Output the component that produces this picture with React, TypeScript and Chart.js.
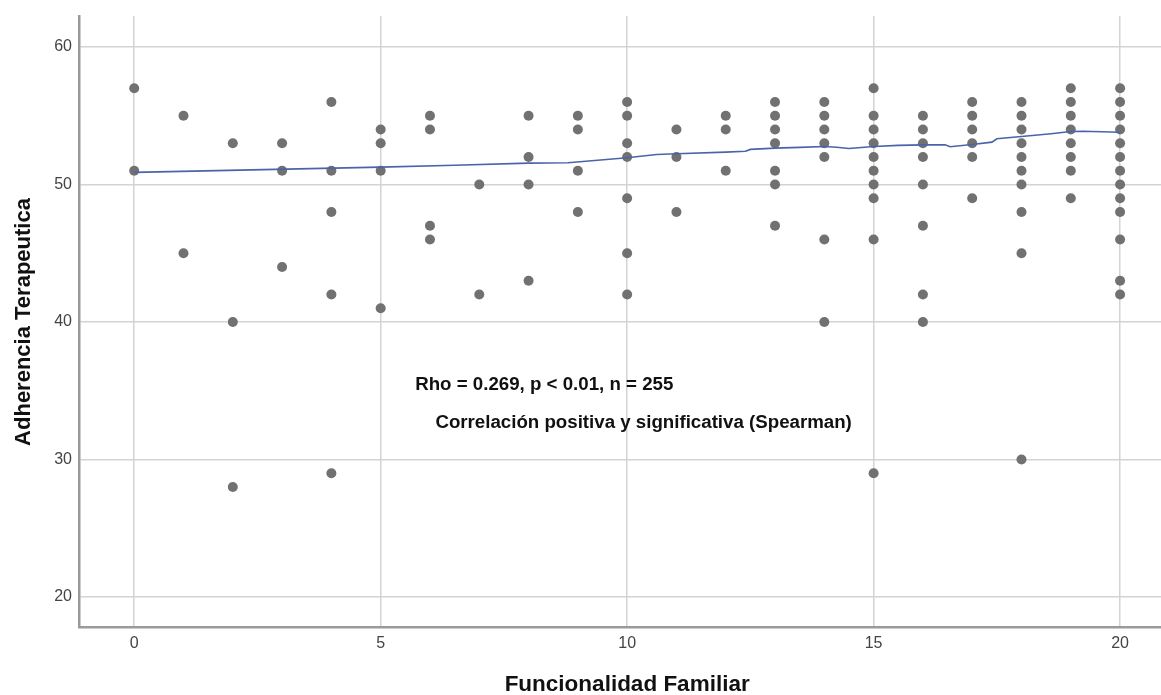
import React, { useEffect, useRef } from 'react';
import { Chart, registerables } from 'chart.js';

Chart.register(...registerables);

// ---- Data ----
const xTicks = [0, 5, 10, 15, 20];
const yTicks = [20, 30, 40, 50, 60];

const funcionalidad = [0, 1, 2, 3, 4, 5, 6, 7, 8, 9, 10, 11, 12, 13, 14, 15, 16, 17, 18, 19, 20];
const adherenciaPorX: number[][] = [
  [57, 51],
  [55, 45],
  [53, 40, 28],
  [53, 51, 44],
  [56, 51, 48, 42, 29],
  [54, 53, 51, 41],
  [55, 54, 47, 46],
  [50, 42],
  [55, 52, 50, 43],
  [55, 54, 51, 48],
  [56, 55, 53, 52, 49, 45, 42],
  [54, 52, 48],
  [55, 54, 51],
  [56, 55, 54, 53, 51, 50, 47],
  [56, 55, 54, 53, 52, 46, 40],
  [57, 55, 54, 53, 52, 51, 50, 49, 46, 29],
  [55, 54, 53, 52, 50, 47, 42, 40],
  [56, 55, 54, 53, 52, 49],
  [56, 55, 54, 53, 52, 51, 50, 48, 45, 30],
  [57, 56, 55, 54, 53, 52, 51, 49],
  [57, 56, 55, 54, 53, 52, 51, 50, 49, 48, 46, 43, 42],
];

// Loess-like fit line
const fitX = [0, 5, 6.5, 8, 8.8, 10, 10.6, 11, 12, 12.4, 12.5, 13, 13.5, 14, 14.25, 14.5, 15, 15.5, 16, 16.45, 16.55, 17, 17.4, 17.5, 18, 18.6, 19, 19.25, 20];
const fitY = [50.88, 51.26, 51.4, 51.55, 51.58, 51.94, 52.18, 52.23, 52.35, 52.42, 52.55, 52.64, 52.7, 52.76, 52.71, 52.62, 52.76, 52.84, 52.88, 52.88, 52.74, 52.91, 53.08, 53.32, 53.49, 53.69, 53.85, 53.87, 53.8];

const xTitle = 'Funcionalidad Familiar';
const yTitle = 'Adherencia Terapeutica';
const annotationLines = ['Rho = 0.269, p < 0.01, n = 255', 'Correlación positiva y significativa (Spearman)'];
const annotationX = [5.7, 6.11];
const annotationY = [35.4, 32.7];

const FONT = '"Liberation Sans", Arial, sans-serif';

const textPlugin = {
  id: 'textLayer',
  beforeDatasetsDraw(chart: any) {
    const { ctx, scales } = chart;
    const xs = scales.x;
    const ys = scales.y;
    ctx.save();
    ctx.fillStyle = '#111';
    ctx.font = `bold 18.7px ${FONT}`;
    ctx.textAlign = 'left';
    ctx.textBaseline = 'middle';
    annotationLines.forEach((t, i) => {
      ctx.fillText(t, xs.getPixelForValue(annotationX[i]), ys.getPixelForValue(annotationY[i]));
    });
    ctx.restore();
  },
  afterDraw(chart: any) {
    const { ctx, scales } = chart;
    const xs = scales.x;
    const ys = scales.y;
    ctx.save();
    ctx.fillStyle = '#111';
    ctx.font = `bold 22.5px ${FONT}`;
    ctx.textAlign = 'center';
    ctx.textBaseline = 'middle';
    ctx.fillText(xTitle, xs.getPixelForValue((xTicks[0] + xTicks[xTicks.length - 1]) / 2), 685);
    ctx.font = `bold 22px ${FONT}`;
    ctx.translate(23.5, ys.getPixelForValue((yTicks[0] + yTicks[yTicks.length - 1]) / 2));
    ctx.rotate(-Math.PI / 2);
    ctx.fillText(yTitle, 0, 0);
    ctx.restore();
  },
};

export default function App() {
  const ref = useRef<HTMLCanvasElement | null>(null);

  useEffect(() => {
    document.body.style.margin = '0';
    const canvas = ref.current;
    if (!canvas) return;

    const points: { x: number; y: number }[] = [];
    funcionalidad.forEach((x, i) => {
      adherenciaPorX[i].forEach((y) => points.push({ x, y }));
    });
    const fit = fitX.map((x, i) => ({ x, y: fitY[i] }));

    const chart = new Chart(canvas, {
      type: 'scatter',
      data: {
        datasets: [
          {
            type: 'line',
            label: 'Ajuste',
            data: fit,
            borderColor: '#4a64aa',
            borderWidth: 1.6,
            pointRadius: 0,
            tension: 0,
            fill: false,
            order: 0,
          } as any,
          {
            label: 'Casos',
            data: points,
            backgroundColor: '#717171',
            borderWidth: 0,
            pointRadius: 5,
            pointHoverRadius: 5,
            order: 1,
          },
        ],
      },
      options: {
        responsive: false,
        animation: false,
        events: [],
        layout: { autoPadding: false, padding: { top: 16, left: 0, right: 0, bottom: 0 } },
        plugins: {
          legend: { display: false },
          tooltip: { enabled: false },
        },
        scales: {
          x: {
            type: 'linear',
            min: -1.12,
            max: 20.83,
            afterBuildTicks: (s: any) => {
              s.ticks = xTicks.map((v) => ({ value: v }));
            },
            afterFit: (s: any) => {
              s.height = 68;
              s.paddingLeft = 0;
              s.paddingRight = 0;
            },
            grid: { color: '#d3d3d3', lineWidth: 1.5, drawTicks: false },
            border: { color: '#9a9a9a', width: 2.5 },
            ticks: {
              padding: 7,
              color: '#444',
              font: { family: FONT, size: 16 },
              callback: (v: any) => String(v),
            },
          },
          y: {
            type: 'linear',
            min: 17.82,
            max: 62.25,
            afterBuildTicks: (s: any) => {
              s.ticks = yTicks.map((v) => ({ value: v }));
            },
            afterFit: (s: any) => {
              s.width = 79;
              s.paddingTop = 0;
              s.paddingBottom = 0;
            },
            grid: { color: '#d3d3d3', lineWidth: 1.5, drawTicks: false },
            border: { color: '#9a9a9a', width: 2.5 },
            ticks: {
              padding: 7,
              color: '#444',
              font: { family: FONT, size: 16 },
              callback: (v: any) => String(v),
            },
          },
        },
      },
      plugins: [textPlugin],
    });

    return () => {
      chart.destroy();
    };
  }, []);

  return (
    <div style={{ position: 'absolute', left: 0, top: 0, width: 1161, height: 695, background: '#fff', overflow: 'hidden' }}>
      <canvas ref={ref} width={1161} height={695} style={{ display: 'block' }} />
    </div>
  );
}
